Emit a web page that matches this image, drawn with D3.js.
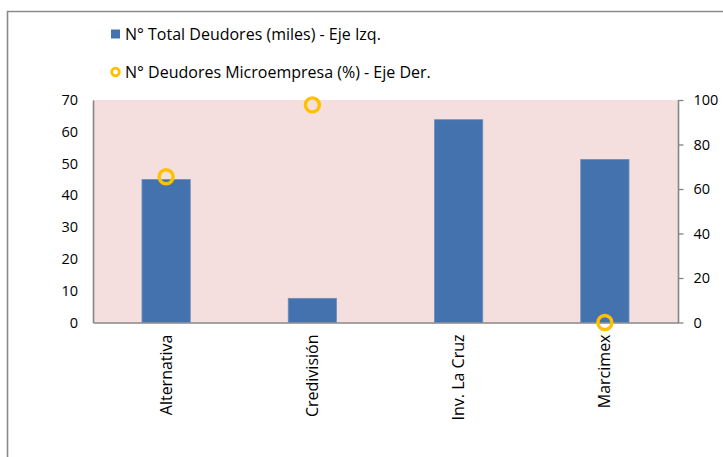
<!DOCTYPE html>
<html>
<head>
<meta charset="utf-8">
<script src="https://d3js.org/d3.v7.min.js"></script>
<style>
    body { margin: 0; background: #fff; }
    svg text { font-family: "Open Sans", "Noto Sans", sans-serif; fill: #000; }
</style>
</head>
<body>
<div id="my_dataviz"></div>
<script>
    // data
    var categories = ["Alternativa", "Credivisión", "Inv. La Cruz", "Marcimex"];
    var totalDeudores = [45, 7.6, 63.8, 51.3];      // miles, left axis
    var microPct = [65.5, 97.8, null, 0];           // %, right axis
    var leftTicks = [0, 10, 20, 30, 40, 50, 60, 70];
    var rightTicks = [0, 20, 40, 60, 80, 100];
    var legendLabels = ["N° Total Deudores (miles) - Eje Izq.", "N° Deudores Microempresa (%) - Eje Der."];

    var W = 723, H = 457;
    var margin = { top: 100, right: 45, bottom: 134, left: 93 },
        width = 678 - margin.left,
        height = 322.5 - margin.top;

    var root = d3.select("#my_dataviz")
        .append("svg")
        .attr("width", W)
        .attr("height", H);

    // title, cut off at the very top in the reference
    root.append("text")
        .attr("x", 30)
        .attr("y", 0.2)
        .style("font-size", "20px")
        .style("fill", "#999")
        .text("Número de Deudores");

    // outer chart border (cut at right and bottom)
    root.append("path")
        .attr("d", "M7.5," + (H + 2) + "V11.5H" + (W + 2))
        .attr("fill", "none")
        .attr("stroke", "#8a8a8a")
        .attr("stroke-width", 1.6);

    // legend
    var leg = root.append("g");
    leg.append("rect")
        .attr("x", 111).attr("y", 29.5)
        .attr("width", 9).attr("height", 9)
        .attr("fill", "#4472AE");
    leg.append("text")
        .attr("x", 125).attr("y", 34).attr("dy", "0.35em")
        .style("font-size", "16px")
        .text(legendLabels[0]);
    leg.append("circle")
        .attr("cx", 115.5).attr("cy", 72)
        .attr("r", 3.8)
        .attr("fill", "none")
        .attr("stroke", "#FFC000")
        .attr("stroke-width", 2.8);
    leg.append("text")
        .attr("x", 125).attr("y", 72).attr("dy", "0.35em")
        .style("font-size", "16px")
        .text(legendLabels[1]);

    var svg = root.append("g")
        .attr("transform", "translate(" + margin.left + "," + margin.top + ")");

    // plot background
    svg.append("rect")
        .attr("width", width)
        .attr("height", height)
        .attr("fill", "#F4DFDE");

    var x = d3.scaleBand()
        .domain(categories)
        .range([0, width])
        .padding(0);

    var yL = d3.scaleLinear().domain([0, 70]).range([height, 0]);
    var yR = d3.scaleLinear().domain([0, 100]).range([height, 0]);

    var barW = x.bandwidth() * 0.33;

    // bars
    svg.selectAll("rect.bar")
        .data(categories)
        .enter()
        .append("rect")
        .attr("class", "bar")
        .attr("x", function (d) { return x(d) + x.bandwidth() / 2 - barW / 2; })
        .attr("y", function (d, i) { return yL(totalDeudores[i]); })
        .attr("width", barW)
        .attr("height", function (d, i) { return height - yL(totalDeudores[i]); })
        .attr("fill", "#4472AE")
        .attr("stroke", "#6b8fc0")
        .attr("stroke-width", 0.8);

    // left axis
    var gl = svg.append("g")
        .call(d3.axisLeft(yL).tickValues(leftTicks).tickSize(0).tickPadding(15));
    gl.select(".domain").attr("stroke", "#868686").attr("stroke-width", 1.6);
    gl.selectAll("text").style("font-size", "14.5px");

    // right axis
    var gr = svg.append("g")
        .attr("transform", "translate(" + width + ",0)")
        .call(d3.axisRight(yR).tickValues(rightTicks).tickSize(5.5).tickPadding(10).tickSizeOuter(0));
    gr.select(".domain").attr("stroke", "#868686").attr("stroke-width", 1.6);
    gr.selectAll(".tick line").attr("stroke", "#868686").attr("stroke-width", 1.3);
    gr.selectAll("text").style("font-size", "14.5px");

    // bottom axis
    var gb = svg.append("g")
        .attr("transform", "translate(0," + height + ")")
        .call(d3.axisBottom(x).tickSize(0).tickSizeOuter(0));
    gb.select(".domain").attr("stroke", "#868686").attr("stroke-width", 1.6);
    gb.selectAll("text")
        .style("font-size", "16px")
        .style("text-anchor", "end")
        .attr("y", 0)
        .attr("x", -12)
        .attr("dy", "0.35em")
        .attr("transform", "rotate(-90)");

    // circle markers (right axis)
    svg.selectAll("circle.pt")
        .data(categories.filter(function (d, i) { return microPct[i] !== null; }))
        .enter()
        .append("circle")
        .attr("class", "pt")
        .attr("cx", function (d) { return x(d) + x.bandwidth() / 2; })
        .attr("cy", function (d) { return yR(microPct[categories.indexOf(d)]); })
        .attr("r", 7)
        .attr("fill", "none")
        .attr("stroke", "#FFC000")
        .attr("stroke-width", 3.4);
</script>
</body>
</html>
